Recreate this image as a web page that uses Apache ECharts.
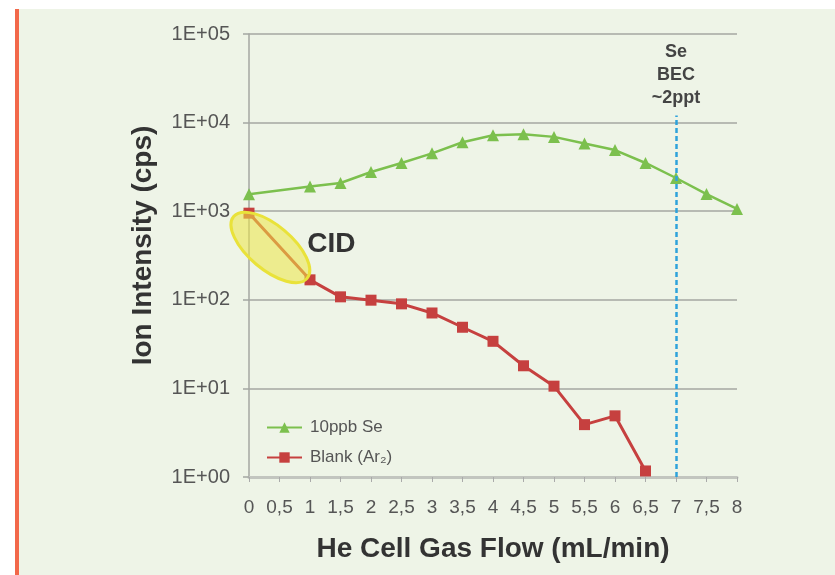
<!DOCTYPE html>
<html><head><meta charset="utf-8">
<script src="https://cdn.jsdelivr.net/npm/echarts@6/dist/echarts.min.js"></script>
<style>html,body{margin:0;padding:0;background:#fff;}#c{width:835px;height:575px;}</style>
</head><body><div id="c"></div>
<script>
// Data
var flowSe = [0, 1, 1.5, 2, 2.5, 3, 3.5, 4, 4.5, 5, 5.5, 6, 6.5, 7, 7.5, 8];
var se10ppb = [1550, 1900, 2080, 2770, 3500, 4500, 6000, 7200, 7400, 6900, 5800, 4900, 3500, 2370, 1560, 1060];
var flowBlank = [0, 1, 1.5, 2, 2.5, 3, 3.5, 4, 4.5, 5, 5.5, 6, 6.5];
var blankAr2 = [950, 168, 108, 99, 90, 71, 49, 34, 18, 10.6, 3.9, 4.9, 1.17];
var becFlow = 7;            // Se BEC marker position (mL/min)
var becTop = 12000;         // top of BEC dashed line (cps)
var cidCenter = [0.35, 390]; // CID ellipse centre (data coords)
var cidLabelPos = [1.35, 420];
var becLabelPos = [7, 34000];

var FONT = '"Liberation Sans", Arial, sans-serif';
var chart = echarts.init(document.getElementById('c'), null, {renderer: 'canvas'});

function pairs(xs, ys) { return xs.map(function (x, i) { return [x, ys[i]]; }); }

var option = {
  backgroundColor: '#ffffff',
  animation: false,
  grid: {left: 249, right: 98, top: 34, bottom: 98, containLabel: false},
  legend: {
    orient: 'vertical', left: 261, top: 414, itemWidth: 35, itemHeight: 13, itemGap: 13,
    textStyle: {fontFamily: FONT, fontSize: 17, color: '#555', padding: [0, 0, 0, 3]},
    data: ['10ppb Se', 'Blank (Ar\u2082)']
  },
  xAxis: {
    type: 'value', min: 0, max: 8, interval: 0.5,
    name: 'He Cell Gas Flow (mL/min)', nameLocation: 'middle', nameGap: 58,
    nameTextStyle: {fontFamily: FONT, fontSize: 28, fontWeight: 'bold', color: '#333'},
    axisLine: {show: true, onZero: false, lineStyle: {color: '#c2c5bf', width: 3}},
    axisTick: {show: true, length: 5, lineStyle: {color: '#aaa'}},
    axisLabel: {fontFamily: FONT, fontSize: 19, color: '#555', margin: 21,
      formatter: function (v) { return String(v).replace('.', ','); }},
    splitLine: {show: false}
  },
  yAxis: {
    type: 'log', logBase: 10, min: 1, max: 100000,
    name: 'Ion Intensity (cps)', nameLocation: 'middle', nameGap: 92,
    nameTextStyle: {fontFamily: FONT, fontSize: 28, fontWeight: 'bold', color: '#333', padding: [0, 0, 0, 20]},
    axisLine: {show: true, lineStyle: {color: '#a4a7a2', width: 1.5}},
    axisTick: {show: true, length: 6, lineStyle: {color: '#a4a7a2', width: 1.5}},
    axisLabel: {fontFamily: FONT, fontSize: 20, color: '#555', margin: 19,
      formatter: function (v) { var e = Math.round(Math.log10(v)); return '1E+' + (e < 10 ? '0' : '') + e; }},
    splitLine: {show: true, lineStyle: {color: '#a4a7a2', width: 1.5}}
  },
  series: [
    {
      name: '10ppb Se', type: 'line', data: pairs(flowSe, se10ppb),
      symbol: 'triangle', symbolSize: 12,
      lineStyle: {color: '#7cc04e', width: 2.5},
      itemStyle: {color: '#7cc04e'}, z: 3
    },
    {
      name: 'Blank (Ar\u2082)', type: 'line', data: pairs(flowBlank, blankAr2),
      symbol: 'rect', symbolSize: 11,
      lineStyle: {color: '#c6403f', width: 3},
      itemStyle: {color: '#c6403f'}, z: 3,
      markLine: {
        silent: true, symbol: 'none', label: {show: false},
        lineStyle: {color: '#2ea2db', width: 2.5, type: [5, 3]},
        data: [[{coord: [becFlow, 1]}, {coord: [becFlow, becTop]}]]
      }
    }
  ]
};
chart.setOption(option);

var c = chart.convertToPixel({gridIndex: 0}, cidCenter);
var cl = chart.convertToPixel({gridIndex: 0}, cidLabelPos);
var bl = chart.convertToPixel({gridIndex: 0}, becLabelPos);
chart.setOption({
  graphic: [
    {type: 'rect', z: -10, silent: true, shape: {x: 19, y: 9, width: 816, height: 566}, style: {fill: '#eef4e7'}},
    {type: 'rect', z: -9, silent: true, shape: {x: 15, y: 9, width: 4, height: 566}, style: {fill: '#f2684a'}},
    {type: 'ellipse', z: 10, silent: true, x: c[0], y: c[1], rotation: -0.70,
      shape: {cx: 0, cy: 0, rx: 48, ry: 22},
      style: {fill: 'rgba(236,230,70,0.55)', stroke: '#e9e23a', lineWidth: 3}},
    {type: 'text', z: 10, silent: true, x: cl[0], y: cl[1],
      style: {text: 'CID', fontFamily: FONT, fontSize: 28, fontWeight: 'bold', fill: '#333', align: 'center', verticalAlign: 'middle'}},
    {type: 'text', z: 10, silent: true, x: bl[0], y: bl[1],
      style: {text: 'Se\nBEC\n~2ppt', fontFamily: FONT, fontSize: 18, fontWeight: 'bold', fill: '#444', align: 'center', verticalAlign: 'middle', lineHeight: 23}}
  ]
});
</script></body></html>
